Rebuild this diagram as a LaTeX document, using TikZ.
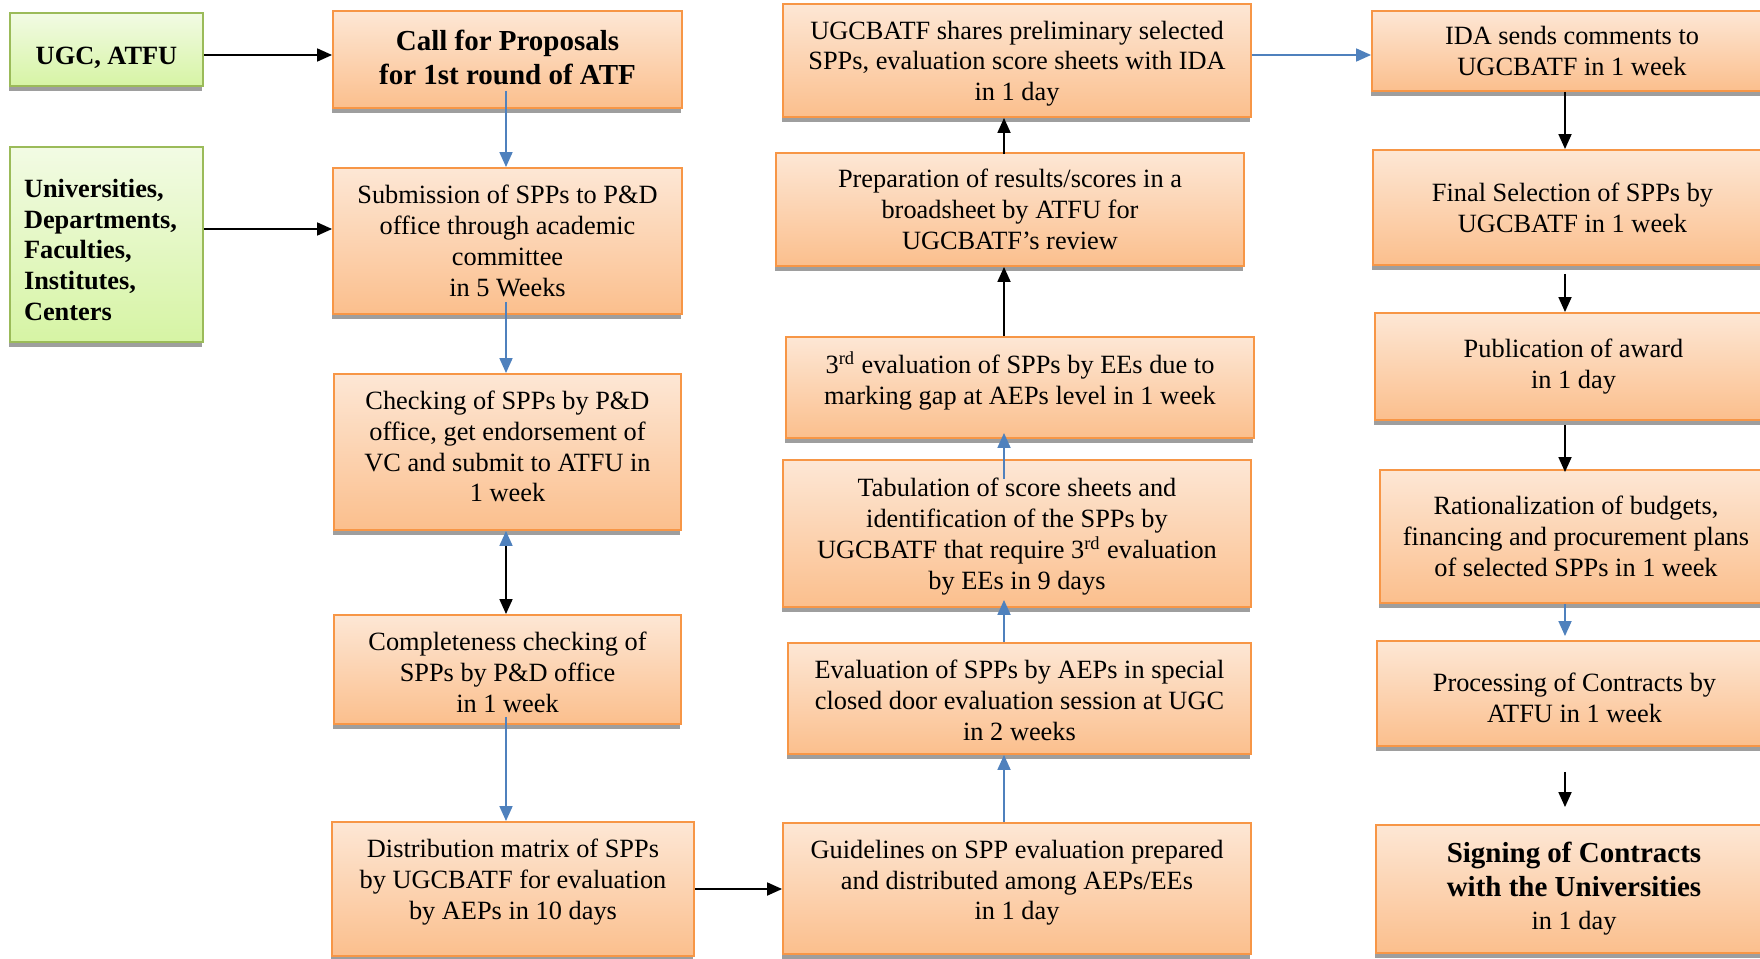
\documentclass[tikz,border=0pt]{standalone}
\usepackage{fontspec}
\setmainfont{Liberation Serif}
\usetikzlibrary{arrows.meta,shadows}
\definecolor{boxtop}{HTML}{FDE7D5}
\definecolor{boxbot}{HTML}{FBBF8D}
\definecolor{boxline}{HTML}{F79646}
\definecolor{srctop}{HTML}{F2FBE4}
\definecolor{srcbot}{HTML}{D6F4A4}
\definecolor{srcline}{HTML}{9BBB59}
\definecolor{flowblue}{HTML}{4F81BD}
% struts that nudge a box text down (first line) or up (last line)
\newcommand{\tallfirst}[1]{\rule{0pt}{#1}}
\newcommand{\deeplast}[1]{\rule[-#1]{0pt}{#1}}

\begin{document}
\begin{tikzpicture}[x=0.02cm,y=-0.02cm,
  stage/.style={draw=boxline, line width=1.1pt, top color=boxtop, bottom color=boxbot,
    drop shadow={shadow xshift=-0.02cm, shadow yshift=-0.1cm, fill=black!38, opacity=1},
    inner sep=0pt, align=center, font=\fontsize{15}{17.5}\selectfont},
  source/.style={stage, draw=srcline, top color=srctop, bottom color=srcbot,
    font=\fontsize{15}{17.5}\selectfont\bfseries},
  headline/.style={font=\fontsize{16.5}{19}\selectfont\bfseries},
  blackarrow/.style={draw=black, line width=1pt, -{Triangle[length=0.3cm,width=0.26cm]}},
  bluearrow/.style={draw=flowblue, line width=1pt, -{Triangle[length=0.3cm,width=0.26cm]}}]
\path[use as bounding box, clip] (0,0) rectangle (1760,959);

\node[source, minimum width=3.86cm, minimum height=1.46cm] (ugc) at (106.5,49.5) {\tallfirst{19pt}UGC, ATFU};
\node[source, align=left, text width=3.3cm, minimum width=3.86cm, minimum height=3.9cm] (univ) at (106.5,244.5)
  {\tallfirst{16.5pt}Universities,\\ Departments,\\ Faculties,\\ Institutes,\\ Centers};

\node[stage, headline, minimum width=6.98cm, minimum height=1.94cm] (call) at (507.5,59.5)
  {Call for Proposals\\ for 1st round of ATF\deeplast{2.6pt}};
\node[stage, minimum width=6.98cm, minimum height=2.92cm] (subm) at (507.5,241)
  {Submission of SPPs to P\&D\\ office through academic\\ committee\\ in 5 Weeks};
\node[stage, minimum width=6.94cm, minimum height=3.12cm] (check) at (507.5,452)
  {Checking of SPPs by P\&D\\ office, get endorsement of\\ VC and submit to ATFU in\\ 1 week\deeplast{6.4pt}};
\node[stage, minimum width=6.94cm, minimum height=2.18cm] (compl) at (507.5,669.5)
  {\tallfirst{14pt}Completeness checking of\\ SPPs by P\&D office\\ in 1 week};
\node[stage, minimum width=7.24cm, minimum height=2.68cm] (distr) at (513,889)
  {Distribution matrix of SPPs\\ by UGCBATF for evaluation\\ by AEPs in 10 days\deeplast{10.9pt}};

\node[stage, minimum width=9.36cm, minimum height=2.62cm] (guide) at (1017,888.5)
  {Guidelines on SPP evaluation prepared\\ and distributed among AEPs/EEs\\ in 1 day\deeplast{9.7pt}};
\node[stage, minimum width=9.26cm, minimum height=2.22cm] (evalu) at (1019.5,698.5)
  {\tallfirst{12.4pt}Evaluation of SPPs by AEPs in special\\ closed door evaluation session at UGC\\ in 2 weeks};
\node[stage, minimum width=9.36cm, minimum height=2.94cm] (tabul) at (1017,533.5)
  {\tallfirst{14pt}Tabulation of score sheets and\\ identification of the SPPs by\\ UGCBATF that require 3\textsuperscript{rd} evaluation\\ by EEs in 9 days};
\node[stage, minimum width=9.36cm, minimum height=2.02cm] (third) at (1020,387.5)
  {3\textsuperscript{rd} evaluation of SPPs by EEs due to\\ marking gap at AEPs level in 1 week\deeplast{10.9pt}};
\node[stage, minimum width=9.36cm, minimum height=2.26cm] (prep) at (1010,209.5)
  {Preparation of results/scores in a\\ broadsheet by ATFU for\\ UGCBATF’s review};
\node[stage, minimum width=9.36cm, minimum height=2.26cm] (share) at (1017,60.5)
  {\tallfirst{14pt}UGCBATF shares preliminary selected\\ SPPs, evaluation score sheets with IDA\\ in 1 day};

\node[stage, minimum width=8cm, minimum height=1.6cm] (ida) at (1572,51)
  {IDA sends comments to\\ UGCBATF in 1 week};
\node[stage, minimum width=7.98cm, minimum height=2.3cm] (final) at (1572.5,207.5)
  {Final Selection of SPPs by\\ UGCBATF in 1 week};
\node[stage, minimum width=7.94cm, minimum height=2.14cm] (publ) at (1573.5,366.5)
  {Publication of award\\ in 1 day};
\node[stage, minimum width=7.84cm, minimum height=2.66cm] (ration) at (1576,536.5)
  {Rationalization of budgets,\\ financing and procurement plans\\ of selected SPPs in 1 week};
\node[stage, minimum width=7.9cm, minimum height=2.1cm] (proc) at (1574.5,693.5)
  {\tallfirst{15.2pt}Processing of Contracts by\\ ATFU in 1 week};
\node[stage, headline, minimum width=7.92cm, minimum height=2.56cm] (sign) at (1574,889)
  {Signing of Contracts\\ with the Universities\\ {\mdseries\fontsize{15}{17.5}\selectfont in 1 day}};

\coordinate (toprow) at (0,55);
\coordinate (univrow) at (0,229);
\coordinate (leftcol) at (506,0);
\coordinate (midcol) at (1004,0);
\coordinate (rightcol) at (1565,0);

\draw[blackarrow] (ugc.east |- toprow) -- (call.west |- toprow);
\draw[blackarrow] (univ.east |- univrow) -- (subm.west |- univrow);
\draw[bluearrow, shorten <=-0.36cm] (leftcol |- call.south) -- (leftcol |- subm.north);
\draw[bluearrow, shorten <=-0.26cm] (leftcol |- subm.south) -- (leftcol |- check.north);
\draw[blackarrow, {Triangle[length=0.3cm,width=0.26cm,color=flowblue]}-{Triangle[length=0.3cm,width=0.26cm]}]
  (leftcol |- check.south) -- (leftcol |- compl.north);
\draw[bluearrow, shorten <=-0.16cm] (leftcol |- compl.south) -- (leftcol |- distr.north);
\draw[blackarrow] (distr.east) -- (distr.east -| guide.west);

\draw[bluearrow] (midcol |- guide.north) -- (midcol |- evalu.south);
\draw[bluearrow, shorten >=-0.16cm] (midcol |- evalu.north) -- (midcol |- tabul.south);
\draw[bluearrow, shorten <=-0.4cm, shorten >=-0.12cm] (midcol |- tabul.north) -- (midcol |- third.south);
\draw[blackarrow] (midcol |- third.north) -- (midcol |- prep.south);
\draw[blackarrow, shorten <=-0.04cm] (midcol |- prep.north) -- (midcol |- share.south);
\draw[bluearrow] (share.east |- toprow) -- (ida.west |- toprow);

\draw[blackarrow] (rightcol |- ida.south) -- (rightcol |- final.north);
\draw[blackarrow, shorten <=0.16cm] (rightcol |- final.south) -- (rightcol |- publ.north);
\draw[blackarrow, shorten <=0.08cm, shorten >=-0.06cm] (rightcol |- publ.south) -- (rightcol |- ration.north);
\draw[bluearrow, shorten >=0.08cm] (rightcol |- ration.south) -- (rightcol |- proc.north);
\draw[blackarrow, shorten <=0.5cm, shorten >=0.34cm] (rightcol |- proc.south) -- (rightcol |- sign.north);
\end{tikzpicture}
\end{document}
